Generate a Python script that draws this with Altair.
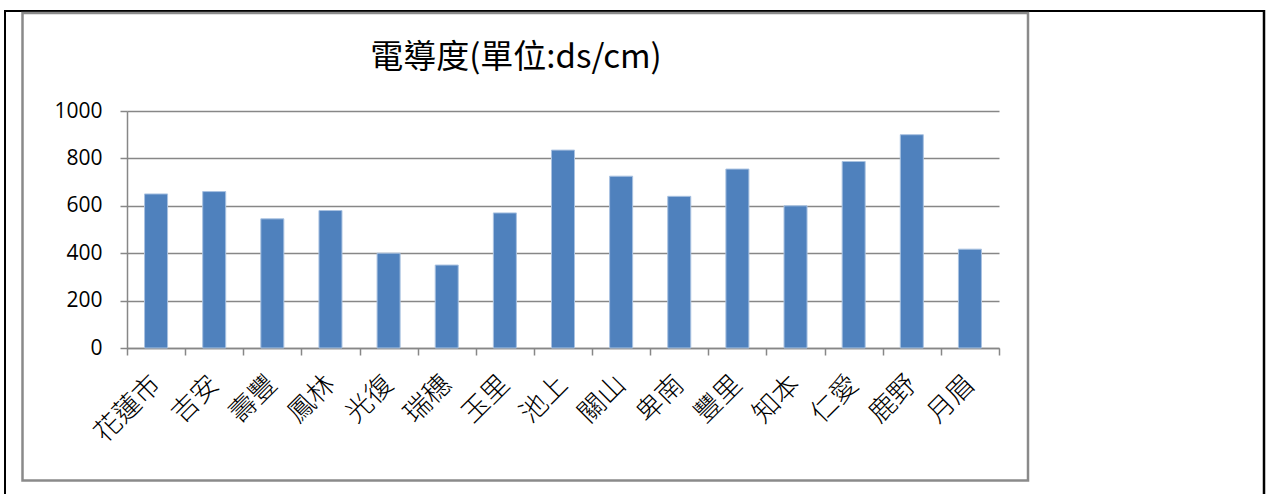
import altair as alt
import pandas as pd

# ---- data ----
towns = ["花蓮市", "吉安", "壽豐", "鳳林", "光復", "瑞穗", "玉里", "池上",
         "關山", "卑南", "豐里", "知本", "仁愛", "鹿野", "月眉"]
conductivity = [650, 660, 545, 580, 400, 350, 570, 835,
                725, 640, 755, 600, 787, 900, 417]
y_ticks = [0, 200, 400, 600, 800, 1000]
title_text = "電導度(單位:ds/cm)"

df = pd.DataFrame({"town": towns, "value": conductivity})
one = pd.DataFrame({"k": [0]})

GRAY = "#878787"
CJK = "Noto Sans CJK TC"

PLOT_W, PLOT_H = 872, 237
PAD_L, PAD_T = 127, 111

bars = alt.Chart(df).mark_bar(
    color="#4F81BD", stroke="#A9C2E1", strokeWidth=1,
    width=alt.RelativeBandSize(0.396)
).encode(
    x=alt.X("town:N", sort=None, title=None,
            scale=alt.Scale(paddingInner=0, paddingOuter=0),
            axis=alt.Axis(labelAngle=-45, labelAlign="right", labelBaseline="middle",
                          labelFont=CJK, labelFontSize=27, labelFontWeight=300,
                          labelColor="#000000",
                          labelPadding=25, tickBand="extent", tickSize=7,
                          tickColor=GRAY, tickWidth=1.5, domainColor=GRAY,
                          domainWidth=1.5, grid=False, labelOverlap=False)),
    y=alt.Y("value:Q", title=None,
            scale=alt.Scale(domain=[0, 1000], nice=False),
            axis=alt.Axis(values=y_ticks, format="d", labelFont="Open Sans",
                          labelFontSize=21, labelColor="#000000", labelPadding=18,
                          tickSize=7, tickColor=GRAY, tickWidth=1.5,
                          domainColor=GRAY, domainWidth=1.5, gridColor=GRAY,
                          gridWidth=1.5, gridOpacity=1)),
)

title = alt.Chart(one).mark_text(
    text=title_text, font=CJK, fontSize=33, align="center",
    baseline="middle", color="#000000"
).encode(x=alt.value(516 - PAD_L), y=alt.value(58 - PAD_T))

# table-cell border (left, top, right; open at the bottom)
border_left = alt.Chart(one).mark_rule(color="#000000", strokeWidth=2).encode(
    x=alt.value(5 - PAD_L), y=alt.value(10 - PAD_T), y2=alt.value(560 - PAD_T))
border_top = alt.Chart(one).mark_rule(color="#000000", strokeWidth=2).encode(
    x=alt.value(4 - PAD_L), x2=alt.value(1265 - PAD_L), y=alt.value(11 - PAD_T))
border_right = alt.Chart(one).mark_rule(color="#000000", strokeWidth=2.5).encode(
    x=alt.value(1264 - PAD_L), y=alt.value(10 - PAD_T), y2=alt.value(560 - PAD_T))

frame = alt.Chart(one).mark_rect(
    fill=None, stroke="#8A8A8A", strokeWidth=2.5
).encode(x=alt.value(22.5 - PAD_L), x2=alt.value(1028 - PAD_L),
         y=alt.value(13 - PAD_T), y2=alt.value(480.5 - PAD_T))

chart = alt.layer(border_left, border_top, border_right, frame, bars, title).properties(
    width=PLOT_W, height=PLOT_H,
    padding={"left": PAD_L, "top": PAD_T,
             "right": 1269 - PAD_L - PLOT_W, "bottom": 494 - PAD_T - PLOT_H},
    autosize=alt.AutoSizeParams(type="none"),
    background="#ffffff",
).configure_view(stroke=None)

chart.save("out.html", embed_options={"renderer": "svg", "actions": False})
